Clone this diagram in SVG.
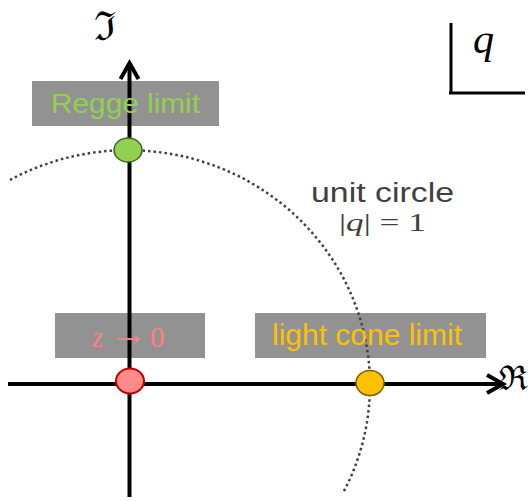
<svg xmlns="http://www.w3.org/2000/svg" width="532" height="501" viewBox="0 0 532 501">
<style>
.box{fill:#929292}
.lbl{font-family:"Liberation Sans",Arial,sans-serif}
.math{font-family:"Liberation Serif","Times New Roman",serif}
.axis{stroke:#000;stroke-width:4;fill:none}
.dots{stroke:#404040;stroke-width:2.5;fill:none;stroke-dasharray:2.5 3}
.frak{font-family:"DejaVu Serif",serif;fill:#000}
</style>
<defs>
<marker id="chev" markerUnits="userSpaceOnUse" markerWidth="40" markerHeight="40" viewBox="-20 -20 40 40" refX="0" refY="0" orient="auto" overflow="visible">
<path d="M-16,-9 L0,0 L-16,9" fill="none" stroke="#000" stroke-width="4"/>
</marker>
</defs>
<rect x="0" y="0" width="532" height="501" fill="#fff"/>

<g id="label-boxes">
<rect id="regge-box" class="box" x="32" y="81" width="187" height="45"/>
<rect id="z-box" class="box" x="55" y="313" width="150" height="45"/>
<rect id="lc-box" class="box" x="255" y="313" width="231" height="45"/>
</g>

<g id="connectors">
<path class="dots" d="M10,180 A242 235 0 0 1 343,493"/>
<line class="axis" x1="8" y1="384" x2="503" y2="384" marker-end="url(#chev)"/>
<line class="axis" x1="129.5" y1="497" x2="129.5" y2="63" marker-end="url(#chev)"/>
</g>

<g id="label-texts">
<text class="lbl" x="51" y="113" font-size="28" fill="#92D050" textLength="149" lengthAdjust="spacingAndGlyphs">Regge limit</text>
<text class="math" y="347" font-size="29" fill="#FF8080"><tspan x="92" font-style="italic">z</tspan><tspan x="115" font-family="DejaVu Serif" font-size="24" textLength="26" lengthAdjust="spacingAndGlyphs">→</tspan><tspan x="150">0</tspan></text>
<text class="lbl" x="272" y="345" font-size="29" fill="#FFC000" textLength="190" lengthAdjust="spacingAndGlyphs">light cone limit</text>
</g>

<g id="axis-labels">
<text class="frak" x="94" y="40" font-size="40">ℑ</text>
<text class="frak" x="499" y="390" font-size="34">ℜ</text>
</g>

<g id="node-regge">
<ellipse cx="128" cy="150" rx="14" ry="12" fill="#92D050" stroke="#41602A" stroke-width="1.5"/>
</g>
<g id="node-z0">
<ellipse cx="130" cy="381" rx="14" ry="12.5" fill="#FF8B8B" stroke="#C00000" stroke-width="2"/>
</g>
<g id="node-lightcone">
<ellipse cx="370" cy="383" rx="14" ry="12.5" fill="#FFC000" stroke="#7F6000" stroke-width="1.5"/>
</g>

<g id="unit-circle-label">
<text class="lbl" x="311" y="202" font-size="27" fill="#404040" textLength="143" lengthAdjust="spacingAndGlyphs">unit circle</text>
<text class="math" x="339" y="231" font-size="26" fill="#404040" textLength="87" lengthAdjust="spacingAndGlyphs">|<tspan font-style="italic">q</tspan>| = 1</text>
</g>

<g id="plane-tag">
<line x1="451" y1="23" x2="451" y2="94" stroke="#000" stroke-width="3"/>
<line x1="449" y1="93" x2="525" y2="93" stroke="#000" stroke-width="3"/>
<text class="math" x="473" y="53" font-size="42" font-style="italic" fill="#000">q</text>
</g>
</svg>
